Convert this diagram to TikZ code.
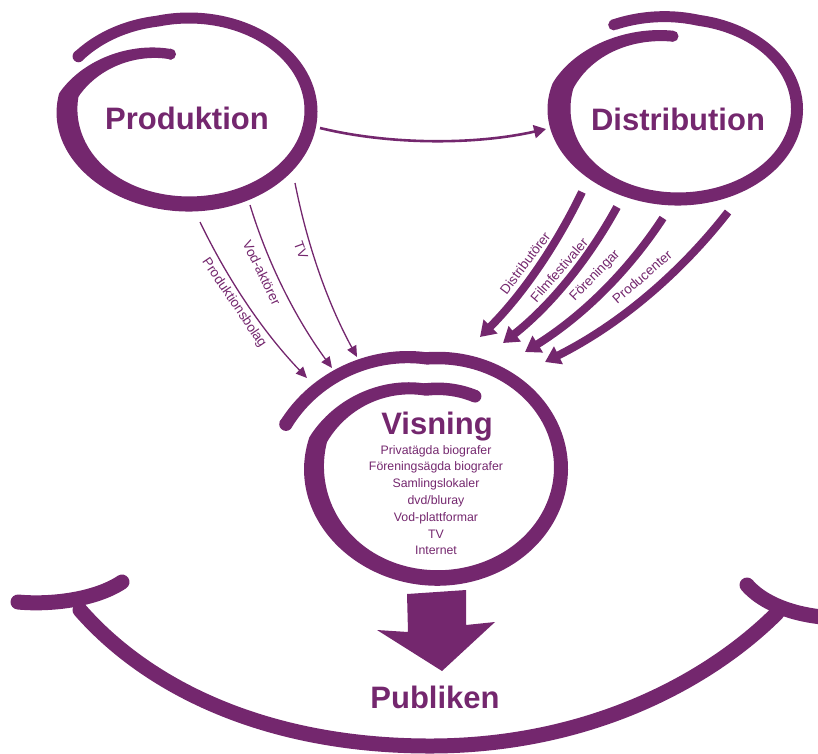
\documentclass[tikz,border=0pt]{standalone}
\usepackage{fontspec}
\setmainfont{Liberation Sans}
\usetikzlibrary{arrows.meta}
\definecolor{pur}{HTML}{74276E}
% brush ring: #1 cx, #2 cy, #3 a, #4 b, #5 t0, #6 t1  (uses rs and rw functions)
\newcommand\brushring[6]{%
  \fill[pur] plot[domain=#5:#6, samples=220, variable=\t]
      ({#1+(rs(\t)*#3+rw(\t)/2)*cos(\t)}, {#2+(rs(\t)*#4+rw(\t)/2)*sin(\t)})
    -- plot[domain=#6:#5, samples=220, variable=\t]
      ({#1+(rs(\t)*#3-rw(\t)/2)*cos(\t)}, {#2+(rs(\t)*#4-rw(\t)/2)*sin(\t)}) -- cycle;
  \fill[pur] ({#1+rs(#5)*#3*cos(#5)}, {#2+rs(#5)*#4*sin(#5)}) circle[radius={rw(#5)/2}];
  \fill[pur] ({#1+rs(#6)*#3*cos(#6)}, {#2+rs(#6)*#4*sin(#6)}) circle[radius={rw(#6)/2}];
}
\begin{document}
\begin{tikzpicture}[x=1pt,y=-1pt,
  ring/.style={draw=pur, line cap=round, line join=round},
  thinarrow/.style={draw=pur, line width=1.3pt, -{Triangle[width=10pt,length=11pt]}},
  midarrow/.style={draw=pur, line width=2.6pt, -{Triangle[width=13pt,length=12pt]}},
  thickarrow/.style={draw=pur, line width=8pt, -{Triangle[width=19pt,length=15pt]}},
  lbl/.style={text=pur, font=\fontsize{13.5}{15}\selectfont, inner sep=0pt},
  title/.style={text=pur, font=\fontsize{31}{36}\selectfont\bfseries, inner sep=0pt},
  item/.style={text=pur, font=\fontsize{12.3}{14}\selectfont, inner sep=0pt, anchor=base},
]
\useasboundingbox (0,0) rectangle (818,753);

% ---- Produktion ring
\begin{scope}[declare function={
    rs(\t)=1+0.08*max(0,(255-\t)/42)-0.37*min(1,max(0,(\t-550)/66));
    rw(\t)=13+2*sin(\t)+8*exp(-((\t-535)/40)^2);}]
  \brushring{189}{111}{122}{93}{213}{616}
\end{scope}

% ---- Distribution ring
\begin{scope}[declare function={
    rs(\t)=1+0.08*max(0,(280-\t)/40)-0.19*min(1,max(0,(\t-555)/72));
    rw(\t)=12+1*sin(\t)+11*exp(-((\t-540)/40)^2);}]
  \brushring{678}{109}{119}{90}{240}{627}
\end{scope}

% ---- Visning ring
\begin{scope}[declare function={
    rs(\t)=1+0.29*max(0,(265-\t)/67)-0.28*min(1,max(0,(\t-555)/67));
    rw(\t)=14+1.5*sin(\t)+6*exp(-((\t-535)/40)^2);}]
  \brushring{437.5}{468}{123.5}{110}{198}{655}
\end{scope}

% ---- titles
\node[title] (prod) at (187,118) {Produktion};
\node[title] (dist) at (678,119) {Distribution};
\node[title, anchor=base] (vis) at (437,434) {Visning};
\node[title] (pub) at (435,697) {Publiken};
\foreach \t [count=\i] in {Privatägda biografer, Föreningsägda biografer, Samlingslokaler, dvd/bluray, Vod-plattformar, TV, Internet}
  \node[item] (item\i) at (436,{437.2+\i*16.8}) {\t};

% ---- Produktion -> Distribution
\coordinate (pd-s) at (320,128);
\coordinate (pd-e) at (546,129);
\draw[midarrow] (pd-s) .. controls (390,145) and (475,145) .. (pd-e);

% ---- Produktion -> Visning
\coordinate (p1s) at (200,222); \coordinate (p1e) at (307,378);
\coordinate (p2s) at (250,205); \coordinate (p2e) at (332,368);
\coordinate (p3s) at (295,183); \coordinate (p3e) at (357,357);
\draw[thinarrow] (p1s) .. controls (228,280) and (263,332) .. (p1e);
\draw[thinarrow] (p2s) .. controls (268,264) and (296,319) .. (p2e);
\draw[thinarrow] (p3s) .. controls (307,244) and (327,302) .. (p3e);
\node[lbl, rotate=-56] (l1) at (234,303) {Produktionsbolag};
\node[lbl, rotate=-64] (l2) at (262,273) {Vod-aktörer};
\node[lbl, rotate=-70] (l3) at (301,250) {TV};

% ---- Distribution -> Visning
\coordinate (d1s) at (582,192); \coordinate (d1e) at (480,337);
\coordinate (d2s) at (617,207); \coordinate (d2e) at (503,343);
\coordinate (d3s) at (663,218); \coordinate (d3e) at (525,352);
\coordinate (d4s) at (728,212); \coordinate (d4e) at (545,362);
\draw[thickarrow] (d1s) .. controls (556,246) and (522,295) .. (d1e);
\draw[thickarrow] (d2s) .. controls (588,260) and (550,306) .. (d2e);
\draw[thickarrow] (d3s) .. controls (627,273) and (581,317) .. (d3e);
\draw[thickarrow] (d4s) .. controls (678,276) and (617,326) .. (d4e);
\node[lbl, rotate=53] (m1) at (525,263) {Distributörer};
\node[lbl, rotate=49] (m2) at (559,270) {Filmfestivaler};
\node[lbl, rotate=46] (m3) at (595,276) {Föreningar};
\node[lbl, rotate=41] (m4) at (642,277) {Producenter};

% ---- big arrow
\fill[pur] (407,594) -- (466,590) -- (466,625) -- (495,622) -- (442,671) -- (377,630) -- (408,632) -- cycle;

% ---- Publiken smile
\draw[ring, line width=15pt] (80,610) .. controls (150,690) and (270,746) .. (430,746) .. controls (590,746) and (710,680) .. (777,613);
\draw[ring, line width=15pt] (18,602) .. controls (50,605) and (95,600) .. (122,582);
\draw[ring, line width=15pt] (747,585) .. controls (760,600) and (785,613) .. (822,617);
\end{tikzpicture}
\end{document}
